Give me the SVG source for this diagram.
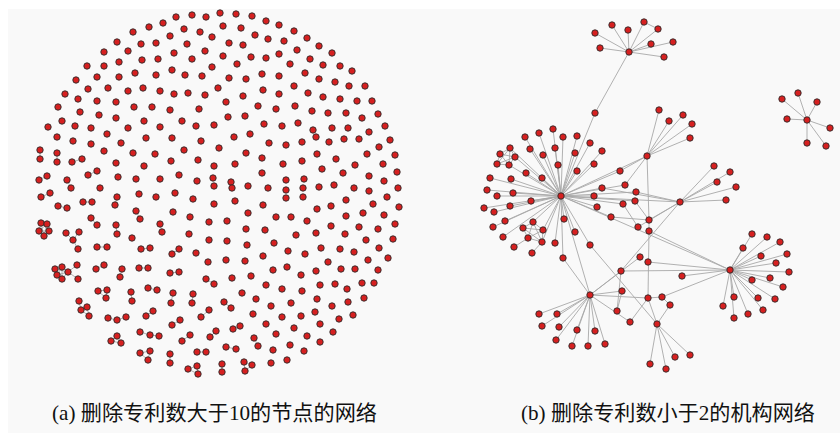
<svg xmlns="http://www.w3.org/2000/svg" xmlns:xlink="http://www.w3.org/1999/xlink" width="840" height="433" viewBox="0 0 840 433">
<style>
.e{stroke:#a8a8a8;stroke-width:0.9;fill:none}
.n{fill:#d62020;stroke:#2b2b2b;stroke-width:0.9}
.cap{font-family:"Liberation Serif","Noto Sans CJK SC",serif;font-size:21px;fill:#111}
</style>
<defs><circle id="d" class="n" r="3.2"/></defs>
<rect width="840" height="433" fill="#ffffff"/>
<rect x="8" y="9" width="832" height="424" fill="#f9f9f9"/>
<g id="panel-a">
<g id="connectors-a" class="e">
<path d="M40 150L40 159M57 153L57 162M72 162L82 159M88 175L97 171M67 180L71 188M47 176L39 180M50 193L41 197M58 206L67 208M83 202L92 202M117 197L115 205M136 211L140 219M91 218L97 225M116 225L117 234M160 224L162 232M66 233L73 240L79 232M73 240L78 249M97 247L107 247M141 249L150 248M172 254L179 249"/>
<path d="M41 223L47 224L49 231L44 236L39 231Z M41 223L49 231M41 223L44 236M47 224L39 231M47 224L44 236M39 231L49 231"/>
<path d="M55 269L62 267L68 272L62 279L57 275Z M55 269L68 272M62 267L57 275M62 267L62 279M55 269L62 279M57 275L68 272M68 272L77 265M68 272L78 279"/>
<path d="M96 269L104 265M122 269L120 277M139 268L148 268M170 273L179 272M206 279L214 284M98 291L107 290L106 298Z M131 292L132 301M148 288L157 290M173 293L171 303M193 294L192 303M224 302L231 308M79 301L81 310L87 307L89 316L81 310M108 318L117 320L126 317M146 316L153 311M172 325L180 320M201 317L209 310M233 329L240 326M111 341L117 336L121 343Z M140 332L150 335L159 336M182 341L190 335M210 337L216 331M254 338L258 346M226 347L236 349M140 353L150 351L148 360Z M170 354L170 363M197 352L206 352M188 369L197 366L198 374Z M222 364L222 372M244 362L252 365L245 371Z"/>
</g>
<g id="nodes-a">
<use href="#d" x="176" y="17"/><use href="#d" x="192" y="15"/><use href="#d" x="206" y="17"/><use href="#d" x="220" y="13"/><use href="#d" x="236" y="14"/><use href="#d" x="252" y="16"/><use href="#d" x="266" y="21"/><use href="#d" x="163" y="23"/><use href="#d" x="149" y="27"/><use href="#d" x="133" y="32"/><use href="#d" x="184" y="29"/><use href="#d" x="200" y="32"/><use href="#d" x="223" y="26"/><use href="#d" x="241" y="28"/><use href="#d" x="279" y="25"/><use href="#d" x="294" y="31"/><use href="#d" x="170" y="36"/><use href="#d" x="212" y="37"/><use href="#d" x="255" y="35"/><use href="#d" x="268" y="39"/><use href="#d" x="284" y="41"/><use href="#d" x="307" y="38"/><use href="#d" x="117" y="42"/><use href="#d" x="141" y="44"/><use href="#d" x="156" y="43"/><use href="#d" x="187" y="44"/><use href="#d" x="229" y="43"/><use href="#d" x="243" y="45"/><use href="#d" x="319" y="46"/><use href="#d" x="104" y="52"/><use href="#d" x="128" y="51"/><use href="#d" x="174" y="53"/><use href="#d" x="205" y="51"/><use href="#d" x="223" y="56"/><use href="#d" x="251" y="57"/><use href="#d" x="266" y="58"/><use href="#d" x="279" y="54"/><use href="#d" x="297" y="50"/><use href="#d" x="310" y="59"/><use href="#d" x="323" y="65"/><use href="#d" x="332" y="53"/><use href="#d" x="119" y="62"/><use href="#d" x="142" y="60"/><use href="#d" x="158" y="59"/><use href="#d" x="192" y="59"/><use href="#d" x="212" y="67"/><use href="#d" x="237" y="64"/><use href="#d" x="87" y="66"/><use href="#d" x="104" y="66"/><use href="#d" x="340" y="66"/>
<use href="#d" x="76" y="80"/><use href="#d" x="97" y="77"/><use href="#d" x="119" y="77"/><use href="#d" x="135" y="73"/><use href="#d" x="156" y="75"/><use href="#d" x="172" y="70"/><use href="#d" x="185" y="75"/><use href="#d" x="202" y="76"/><use href="#d" x="229" y="78"/><use href="#d" x="246" y="79"/><use href="#d" x="262" y="74"/><use href="#d" x="279" y="76"/><use href="#d" x="290" y="64"/><use href="#d" x="305" y="73"/><use href="#d" x="319" y="79"/><use href="#d" x="335" y="82"/><use href="#d" x="352" y="71"/><use href="#d" x="349" y="86"/><use href="#d" x="365" y="86"/><use href="#d" x="88" y="89"/><use href="#d" x="108" y="88"/><use href="#d" x="128" y="91"/><use href="#d" x="143" y="88"/><use href="#d" x="160" y="91"/><use href="#d" x="174" y="94"/><use href="#d" x="188" y="93"/><use href="#d" x="205" y="95"/><use href="#d" x="218" y="88"/><use href="#d" x="243" y="96"/><use href="#d" x="263" y="90"/><use href="#d" x="279" y="94"/><use href="#d" x="294" y="86"/><use href="#d" x="308" y="93"/><use href="#d" x="323" y="97"/><use href="#d" x="340" y="99"/><use href="#d" x="357" y="101"/><use href="#d" x="372" y="101"/><use href="#d" x="65" y="94"/><use href="#d" x="78" y="99"/><use href="#d" x="97" y="101"/><use href="#d" x="116" y="102"/><use href="#d" x="134" y="107"/><use href="#d" x="152" y="107"/><use href="#d" x="170" y="110"/><use href="#d" x="199" y="109"/><use href="#d" x="226" y="102"/><use href="#d" x="258" y="106"/><use href="#d" x="276" y="109"/><use href="#d" x="295" y="106"/><use href="#d" x="312" y="111"/><use href="#d" x="328" y="113"/><use href="#d" x="346" y="113"/><use href="#d" x="362" y="118"/><use href="#d" x="378" y="114"/>
<use href="#d" x="58" y="107"/><use href="#d" x="80" y="112"/><use href="#d" x="99" y="115"/><use href="#d" x="116" y="118"/><use href="#d" x="144" y="121"/><use href="#d" x="182" y="121"/><use href="#d" x="160" y="127"/><use href="#d" x="196" y="126"/><use href="#d" x="214" y="125"/><use href="#d" x="228" y="117"/><use href="#d" x="245" y="116"/><use href="#d" x="264" y="124"/><use href="#d" x="282" y="126"/><use href="#d" x="298" y="123"/><use href="#d" x="313" y="130"/><use href="#d" x="332" y="128"/><use href="#d" x="348" y="128"/><use href="#d" x="369" y="132"/><use href="#d" x="385" y="126"/><use href="#d" x="48" y="127"/><use href="#d" x="62" y="121"/><use href="#d" x="75" y="126"/><use href="#d" x="91" y="128"/><use href="#d" x="128" y="128"/><use href="#d" x="57" y="137"/><use href="#d" x="73" y="141"/><use href="#d" x="91" y="144"/><use href="#d" x="107" y="134"/><use href="#d" x="121" y="143"/><use href="#d" x="146" y="138"/><use href="#d" x="172" y="138"/><use href="#d" x="184" y="150"/><use href="#d" x="201" y="141"/><use href="#d" x="219" y="148"/><use href="#d" x="234" y="137"/><use href="#d" x="250" y="134"/><use href="#d" x="269" y="143"/><use href="#d" x="286" y="145"/><use href="#d" x="302" y="142"/><use href="#d" x="316" y="137"/><use href="#d" x="329" y="142"/><use href="#d" x="344" y="139"/><use href="#d" x="359" y="139"/><use href="#d" x="379" y="147"/><use href="#d" x="390" y="140"/>
<use href="#d" x="40" y="150"/><use href="#d" x="40" y="159"/><use href="#d" x="57" y="153"/><use href="#d" x="57" y="162"/><use href="#d" x="72" y="162"/><use href="#d" x="82" y="159"/><use href="#d" x="104" y="151"/><use href="#d" x="133" y="153"/><use href="#d" x="155" y="154"/><use href="#d" x="171" y="161"/><use href="#d" x="198" y="160"/><use href="#d" x="214" y="166"/><use href="#d" x="235" y="164"/><use href="#d" x="246" y="153"/><use href="#d" x="262" y="158"/><use href="#d" x="283" y="164"/><use href="#d" x="302" y="161"/><use href="#d" x="317" y="154"/><use href="#d" x="336" y="159"/><use href="#d" x="355" y="165"/><use href="#d" x="367" y="154"/><use href="#d" x="383" y="164"/><use href="#d" x="395" y="155"/><use href="#d" x="88" y="175"/><use href="#d" x="97" y="171"/><use href="#d" x="116" y="163"/><use href="#d" x="118" y="177"/><use href="#d" x="144" y="166"/><use href="#d" x="160" y="179"/><use href="#d" x="179" y="175"/><use href="#d" x="197" y="181"/><use href="#d" x="213" y="178"/><use href="#d" x="231" y="182"/><use href="#d" x="262" y="173"/><use href="#d" x="286" y="180"/><use href="#d" x="304" y="179"/><use href="#d" x="322" y="169"/><use href="#d" x="343" y="173"/><use href="#d" x="369" y="176"/><use href="#d" x="397" y="172"/><use href="#d" x="39" y="180"/><use href="#d" x="47" y="176"/><use href="#d" x="67" y="180"/><use href="#d" x="71" y="188"/><use href="#d" x="136" y="179"/><use href="#d" x="100" y="188"/><use href="#d" x="214" y="186"/><use href="#d" x="232" y="188"/><use href="#d" x="248" y="186"/><use href="#d" x="268" y="188"/><use href="#d" x="286" y="190"/><use href="#d" x="303" y="188"/><use href="#d" x="319" y="187"/><use href="#d" x="334" y="185"/><use href="#d" x="354" y="188"/><use href="#d" x="369" y="191"/><use href="#d" x="384" y="181"/><use href="#d" x="398" y="188"/>
<use href="#d" x="41" y="197"/><use href="#d" x="50" y="193"/><use href="#d" x="117" y="197"/><use href="#d" x="139" y="194"/><use href="#d" x="156" y="197"/><use href="#d" x="175" y="193"/><use href="#d" x="193" y="199"/><use href="#d" x="214" y="204"/><use href="#d" x="235" y="201"/><use href="#d" x="263" y="205"/><use href="#d" x="286" y="198"/><use href="#d" x="303" y="197"/><use href="#d" x="387" y="197"/><use href="#d" x="399" y="207"/><use href="#d" x="373" y="204"/><use href="#d" x="346" y="200"/><use href="#d" x="331" y="206"/><use href="#d" x="317" y="209"/><use href="#d" x="58" y="206"/><use href="#d" x="67" y="208"/><use href="#d" x="83" y="202"/><use href="#d" x="92" y="202"/><use href="#d" x="115" y="205"/><use href="#d" x="136" y="211"/><use href="#d" x="140" y="219"/><use href="#d" x="173" y="212"/><use href="#d" x="190" y="217"/><use href="#d" x="209" y="222"/><use href="#d" x="227" y="221"/><use href="#d" x="248" y="213"/><use href="#d" x="276" y="217"/><use href="#d" x="291" y="217"/><use href="#d" x="307" y="221"/><use href="#d" x="316" y="233"/><use href="#d" x="331" y="226"/><use href="#d" x="346" y="216"/><use href="#d" x="345" y="234"/><use href="#d" x="363" y="213"/><use href="#d" x="359" y="227"/><use href="#d" x="384" y="215"/><use href="#d" x="378" y="229"/><use href="#d" x="395" y="224"/><use href="#d" x="91" y="218"/><use href="#d" x="97" y="225"/>
<use href="#d" x="41" y="223"/><use href="#d" x="47" y="224"/><use href="#d" x="39" y="231"/><use href="#d" x="49" y="231"/><use href="#d" x="44" y="236"/>
<use href="#d" x="66" y="233"/><use href="#d" x="79" y="232"/><use href="#d" x="73" y="240"/><use href="#d" x="78" y="249"/><use href="#d" x="116" y="225"/><use href="#d" x="117" y="234"/><use href="#d" x="132" y="238"/><use href="#d" x="160" y="224"/><use href="#d" x="162" y="232"/><use href="#d" x="189" y="234"/><use href="#d" x="209" y="240"/><use href="#d" x="227" y="241"/><use href="#d" x="246" y="229"/><use href="#d" x="265" y="230"/><use href="#d" x="247" y="245"/><use href="#d" x="274" y="243"/><use href="#d" x="296" y="235"/><use href="#d" x="97" y="247"/><use href="#d" x="107" y="247"/><use href="#d" x="141" y="249"/><use href="#d" x="150" y="248"/><use href="#d" x="172" y="254"/><use href="#d" x="179" y="249"/><use href="#d" x="196" y="253"/><use href="#d" x="208" y="262"/><use href="#d" x="226" y="260"/><use href="#d" x="245" y="261"/><use href="#d" x="263" y="256"/><use href="#d" x="288" y="251"/><use href="#d" x="305" y="254"/><use href="#d" x="321" y="248"/><use href="#d" x="340" y="249"/><use href="#d" x="354" y="252"/><use href="#d" x="366" y="240"/><use href="#d" x="379" y="248"/><use href="#d" x="393" y="239"/><use href="#d" x="388" y="258"/><use href="#d" x="368" y="260"/><use href="#d" x="328" y="262"/>
<use href="#d" x="55" y="269"/><use href="#d" x="62" y="267"/><use href="#d" x="57" y="275"/><use href="#d" x="62" y="279"/><use href="#d" x="68" y="272"/><use href="#d" x="77" y="265"/><use href="#d" x="78" y="279"/>
<use href="#d" x="96" y="269"/><use href="#d" x="104" y="265"/><use href="#d" x="122" y="269"/><use href="#d" x="120" y="277"/><use href="#d" x="139" y="268"/><use href="#d" x="148" y="268"/><use href="#d" x="170" y="273"/><use href="#d" x="179" y="272"/><use href="#d" x="206" y="279"/><use href="#d" x="214" y="284"/><use href="#d" x="232" y="278"/><use href="#d" x="251" y="276"/><use href="#d" x="273" y="270"/><use href="#d" x="287" y="267"/><use href="#d" x="301" y="275"/><use href="#d" x="316" y="271"/><use href="#d" x="341" y="269"/><use href="#d" x="355" y="269"/><use href="#d" x="378" y="270"/><use href="#d" x="362" y="283"/><use href="#d" x="374" y="283"/><use href="#d" x="347" y="289"/><use href="#d" x="335" y="284"/><use href="#d" x="320" y="285"/><use href="#d" x="302" y="291"/><use href="#d" x="282" y="289"/><use href="#d" x="266" y="285"/><use href="#d" x="242" y="293"/>
<use href="#d" x="98" y="291"/><use href="#d" x="107" y="290"/><use href="#d" x="106" y="298"/><use href="#d" x="131" y="292"/><use href="#d" x="132" y="301"/><use href="#d" x="148" y="288"/><use href="#d" x="157" y="290"/><use href="#d" x="173" y="293"/><use href="#d" x="171" y="303"/><use href="#d" x="193" y="294"/><use href="#d" x="192" y="303"/><use href="#d" x="224" y="302"/><use href="#d" x="231" y="308"/><use href="#d" x="256" y="299"/><use href="#d" x="271" y="306"/><use href="#d" x="291" y="303"/><use href="#d" x="317" y="299"/><use href="#d" x="332" y="306"/><use href="#d" x="348" y="302"/><use href="#d" x="364" y="298"/><use href="#d" x="79" y="301"/><use href="#d" x="81" y="310"/><use href="#d" x="87" y="307"/><use href="#d" x="89" y="316"/>
<use href="#d" x="108" y="318"/><use href="#d" x="117" y="320"/><use href="#d" x="126" y="317"/><use href="#d" x="146" y="316"/><use href="#d" x="153" y="311"/><use href="#d" x="172" y="325"/><use href="#d" x="180" y="320"/><use href="#d" x="201" y="317"/><use href="#d" x="209" y="310"/><use href="#d" x="233" y="329"/><use href="#d" x="240" y="326"/><use href="#d" x="253" y="314"/><use href="#d" x="266" y="324"/><use href="#d" x="282" y="317"/><use href="#d" x="301" y="316"/><use href="#d" x="315" y="312"/><use href="#d" x="320" y="324"/><use href="#d" x="339" y="319"/><use href="#d" x="353" y="315"/><use href="#d" x="294" y="328"/><use href="#d" x="276" y="334"/><use href="#d" x="307" y="336"/>
<use href="#d" x="111" y="341"/><use href="#d" x="117" y="336"/><use href="#d" x="121" y="343"/><use href="#d" x="140" y="332"/><use href="#d" x="150" y="335"/><use href="#d" x="159" y="336"/><use href="#d" x="182" y="341"/><use href="#d" x="190" y="335"/><use href="#d" x="210" y="337"/><use href="#d" x="216" y="331"/><use href="#d" x="254" y="338"/><use href="#d" x="258" y="346"/><use href="#d" x="273" y="350"/><use href="#d" x="290" y="345"/><use href="#d" x="304" y="351"/><use href="#d" x="320" y="342"/><use href="#d" x="333" y="332"/><use href="#d" x="226" y="347"/><use href="#d" x="236" y="349"/>
<use href="#d" x="140" y="353"/><use href="#d" x="150" y="351"/><use href="#d" x="148" y="360"/><use href="#d" x="170" y="354"/><use href="#d" x="170" y="363"/><use href="#d" x="197" y="352"/><use href="#d" x="206" y="352"/><use href="#d" x="188" y="369"/><use href="#d" x="197" y="366"/><use href="#d" x="198" y="374"/><use href="#d" x="222" y="364"/><use href="#d" x="222" y="372"/><use href="#d" x="244" y="362"/><use href="#d" x="252" y="365"/><use href="#d" x="245" y="371"/><use href="#d" x="271" y="363"/><use href="#d" x="287" y="360"/>
</g>
</g>
<g id="panel-b">
<g id="connectors-b" class="e">
<path d="M629 52L595 33M629 52L612 25M629 52L628 30M629 52L644 22M629 52L658 29M644 22L658 29M629 52L651 44M629 52L673 42M629 52L664 57M629 52L600 48M629 52L595 113L561 196"/>
<path d="M807 120L782 99M807 120L798 93M807 120L817 102M807 120L787 119M807 120L830 128M807 120L807 143M807 120L826 146"/>
<path d="M647 156L659 110M647 156L669 121M647 156L683 115M647 156L692 124M647 156L690 138M647 156L620 171M647 156L625 185M647 156L561 196M647 156L649 220"/>
<path d="M680 202L714 166M680 202L730 172M680 202L717 182M680 202L736 187M680 202L726 200M561 196L680 202M636 192L680 202M602 188L680 202M649 220L680 202M638 227L680 202M680 202L621 271"/>
<path d="M730 270L752 234M730 270L767 237M730 270L780 242M730 270L743 248M730 270L761 256M730 270L787 254M730 270L776 263M730 270L789 272M730 270L752 280M730 270L770 278M730 270L783 287M730 270L734 297M730 270L758 298M730 270L775 299M730 270L723 306M730 270L763 310M730 270L748 314M730 270L734 318M561 196L730 270M649 231L730 270M648 262L730 270M621 271L730 270M682 276L730 270M662 297L730 270"/>
<path d="M590 295L539 314M590 295L557 314M590 295L542 326M590 295L559 327M590 295L577 330M590 295L595 331M590 295L556 340M590 295L572 346M590 295L588 346M590 295L605 344M561 196L590 295M563 258L590 295M640 257L590 295M621 271L590 295M622 291L590 295M648 298L590 295M630 322L590 295"/>
<path d="M657 324L650 364M657 324L666 369M657 324L675 357M657 324L690 355M648 298L657 324M670 305L657 324M590 245L657 324M662 297L670 305M648 298L662 297M649 220L649 231L648 298M621 271L617 311M617 311L622 291M630 322L648 298M611 217L649 220M635 201L649 220M623 204L638 227"/>
<path d="M561 196L525 137M561 196L539 133M561 196L553 129M561 196L563 137M561 196L577 136M561 196L590 143M561 196L602 151M561 196L530 149M561 196L555 148M561 196L543 155M561 196L575 153M561 196L558 165M561 196L594 164M561 196L526 173M561 196L577 171M561 196L490 178M561 196L511 179M561 196L542 178M561 196L487 190M561 196L513 193M561 196L497 196M561 196L531 201M561 196L484 208M561 196L494 212M561 196L510 206M561 196L505 221M561 196L493 227M561 196L503 237M561 196L533 222M561 196L543 230M561 196L542 242M561 196L555 243M561 196L564 219M561 196L575 232M561 196L563 258M561 196L590 245M561 196L594 196M561 196L597 207M561 196L602 188M561 196L611 217M561 196L623 204M561 196L635 201M561 196L636 192M561 196L620 171M561 196L625 185M561 196L515 157M561 196L509 165M561 196L510 148"/>
<path d="M510 148L500 154L497 164L509 165L515 157Z M510 148L497 164M510 148L509 165M500 154L515 157M500 154L509 165M497 164L515 157"/>
<path d="M523 228L533 222L543 230L542 242L528 238Z M523 228L543 230M523 228L542 242M533 222L528 238M533 222L542 242M528 238L543 230M514 247L528 238M532 253L542 242"/>
</g>
<g id="nodes-b">
<g id="hub-top"><use href="#d" x="629" y="52"/><use href="#d" x="595" y="33"/><use href="#d" x="612" y="25"/><use href="#d" x="628" y="30"/><use href="#d" x="644" y="22"/><use href="#d" x="658" y="29"/><use href="#d" x="651" y="44"/><use href="#d" x="673" y="42"/><use href="#d" x="664" y="57"/><use href="#d" x="600" y="48"/><use href="#d" x="595" y="113"/></g>
<g id="star-right"><use href="#d" x="807" y="120"/><use href="#d" x="782" y="99"/><use href="#d" x="798" y="93"/><use href="#d" x="817" y="102"/><use href="#d" x="787" y="119"/><use href="#d" x="830" y="128"/><use href="#d" x="807" y="143"/><use href="#d" x="826" y="146"/></g>
<g id="hub-2"><use href="#d" x="647" y="156"/><use href="#d" x="659" y="110"/><use href="#d" x="669" y="121"/><use href="#d" x="683" y="115"/><use href="#d" x="692" y="124"/><use href="#d" x="690" y="138"/></g>
<g id="hub-3"><use href="#d" x="680" y="202"/><use href="#d" x="714" y="166"/><use href="#d" x="730" y="172"/><use href="#d" x="717" y="182"/><use href="#d" x="736" y="187"/><use href="#d" x="726" y="200"/></g>
<g id="hub-5"><use href="#d" x="730" y="270"/><use href="#d" x="752" y="234"/><use href="#d" x="767" y="237"/><use href="#d" x="780" y="242"/><use href="#d" x="743" y="248"/><use href="#d" x="761" y="256"/><use href="#d" x="787" y="254"/><use href="#d" x="776" y="263"/><use href="#d" x="789" y="272"/><use href="#d" x="752" y="280"/><use href="#d" x="770" y="278"/><use href="#d" x="783" y="287"/><use href="#d" x="734" y="297"/><use href="#d" x="758" y="298"/><use href="#d" x="775" y="299"/><use href="#d" x="723" y="306"/><use href="#d" x="763" y="310"/><use href="#d" x="748" y="314"/><use href="#d" x="734" y="318"/></g>
<g id="hub-4"><use href="#d" x="590" y="295"/><use href="#d" x="539" y="314"/><use href="#d" x="557" y="314"/><use href="#d" x="542" y="326"/><use href="#d" x="559" y="327"/><use href="#d" x="577" y="330"/><use href="#d" x="595" y="331"/><use href="#d" x="556" y="340"/><use href="#d" x="572" y="346"/><use href="#d" x="588" y="346"/><use href="#d" x="605" y="344"/></g>
<g id="hub-6"><use href="#d" x="657" y="324"/><use href="#d" x="650" y="364"/><use href="#d" x="666" y="369"/><use href="#d" x="675" y="357"/><use href="#d" x="690" y="355"/></g>
<g id="mid"><use href="#d" x="602" y="151"/><use href="#d" x="594" y="164"/><use href="#d" x="620" y="171"/><use href="#d" x="625" y="185"/><use href="#d" x="602" y="188"/><use href="#d" x="636" y="192"/><use href="#d" x="635" y="201"/><use href="#d" x="623" y="204"/><use href="#d" x="594" y="196"/><use href="#d" x="597" y="207"/><use href="#d" x="611" y="217"/><use href="#d" x="638" y="227"/><use href="#d" x="649" y="220"/><use href="#d" x="649" y="231"/><use href="#d" x="640" y="257"/><use href="#d" x="648" y="262"/><use href="#d" x="621" y="271"/><use href="#d" x="682" y="276"/><use href="#d" x="622" y="291"/><use href="#d" x="648" y="298"/><use href="#d" x="662" y="297"/><use href="#d" x="670" y="305"/><use href="#d" x="617" y="311"/><use href="#d" x="630" y="322"/><use href="#d" x="564" y="219"/><use href="#d" x="575" y="232"/><use href="#d" x="563" y="258"/><use href="#d" x="590" y="245"/></g>
<g id="hub-1"><use href="#d" x="561" y="196"/><use href="#d" x="525" y="137"/><use href="#d" x="539" y="133"/><use href="#d" x="553" y="129"/><use href="#d" x="563" y="137"/><use href="#d" x="577" y="136"/><use href="#d" x="590" y="143"/><use href="#d" x="510" y="148"/><use href="#d" x="500" y="154"/><use href="#d" x="515" y="157"/><use href="#d" x="497" y="164"/><use href="#d" x="509" y="165"/><use href="#d" x="530" y="149"/><use href="#d" x="555" y="148"/><use href="#d" x="543" y="155"/><use href="#d" x="575" y="153"/><use href="#d" x="558" y="165"/><use href="#d" x="526" y="173"/><use href="#d" x="577" y="171"/><use href="#d" x="490" y="178"/><use href="#d" x="511" y="179"/><use href="#d" x="542" y="178"/><use href="#d" x="487" y="190"/><use href="#d" x="513" y="193"/><use href="#d" x="497" y="196"/><use href="#d" x="531" y="201"/><use href="#d" x="484" y="208"/><use href="#d" x="494" y="212"/><use href="#d" x="510" y="206"/><use href="#d" x="505" y="221"/><use href="#d" x="493" y="227"/><use href="#d" x="503" y="237"/><use href="#d" x="523" y="228"/><use href="#d" x="533" y="222"/><use href="#d" x="543" y="230"/><use href="#d" x="528" y="238"/><use href="#d" x="542" y="242"/><use href="#d" x="555" y="243"/><use href="#d" x="514" y="247"/><use href="#d" x="532" y="253"/></g>
</g>
</g>
<g id="captions">
<text class="cap" x="52" y="420" textLength="325" lengthAdjust="spacingAndGlyphs">(a) 删除专利数大于10的节点的网络</text>
<text class="cap" x="521" y="420" textLength="294" lengthAdjust="spacingAndGlyphs">(b) 删除专利数小于2的机构网络</text>
</g>
</svg>
